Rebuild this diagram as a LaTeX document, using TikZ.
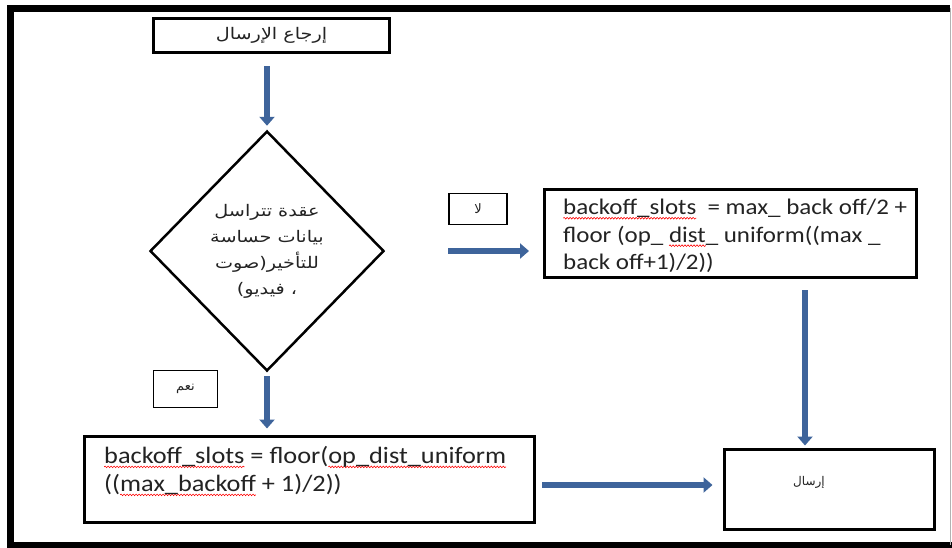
\documentclass[tikz,border=0pt]{standalone}
\usepackage{fontspec}
\setmainfont{Carlito}
\newfontfamily\calcfont[FakeStretch=1.12]{Carlito}
\newfontfamily\arabicfont[Script=Arabic]{DejaVu Sans}
\newfontfamily\arabicwide[Script=Arabic,FakeStretch=1.2]{DejaVu Sans}
\TeXXeTstate=1
\usetikzlibrary{shapes.geometric,arrows.meta,decorations.pathmorphing}
\definecolor{arrowblue}{RGB}{62,100,155}
\definecolor{txt}{RGB}{35,35,35}
\newsavebox\wbox
\newlength\wlen
\newcommand\rw[1]{\sbox\wbox{#1}\setlength\wlen{\wd\wbox}%
  \tikz[overlay,baseline=0pt]\draw[red, line width=0.6pt, decorate, decoration={snake, amplitude=0.8pt, segment length=3pt}] (0pt,-3.5pt) -- (\wlen,-3.5pt);%
  \usebox\wbox}
\tikzset{
  box/.style={draw=black, line width=3pt, fill=white, inner sep=0pt},
  sbox/.style={draw=black, line width=1.3pt, fill=white, inner sep=0pt},
  ar/.style={font=\arabicfont\fontsize{13}{26}\selectfont, text=txt},
  arw/.style={font=\arabicwide\fontsize{16}{26}\selectfont, text=txt},
  lat/.style={font=\calcfont\fontsize{23.5}{28}\selectfont, text=txt, align=left, inner sep=0pt, anchor=north west},
  flow/.style={draw=arrowblue, line width=6pt, -{Triangle[width=15pt,length=9pt]}}
}
\begin{document}
\begin{tikzpicture}[x=1pt,y=-1pt]
\useasboundingbox (0,0) rectangle (952,547);
% frame
\draw[line width=7pt] (950,8) -- (10,8) -- (10,545) -- (952,545);
\draw[line width=0.8pt, black!30] (950,8) -- (950,545);
% nodes
\node[box, arw, minimum width=236, minimum height=34] (ret) at (271.5,35.5) {\beginR إرجاع الإرسال\endR};
\node[draw=black, line width=2.5pt, diamond, minimum width=234, minimum height=240, inner sep=0pt, align=center, arw] (dia) at (267,251)
  {\beginR عقدة تتراسل\endR\\ \beginR بيانات حساسة\endR\\ \beginR للتأخير(صوت\endR\\ \beginR ، فيديو)\endR};
\node[sbox, ar, minimum width=58, minimum height=31] (no) at (478,209) {\beginR لا\endR};
\node[sbox, ar, minimum width=64, minimum height=37] (yes) at (185.5,389) {\beginR نعم\endR};
\node[box, minimum width=372, minimum height=88] (calc1) at (730.5,233) {};
\node[lat, font=\calcfont\fontsize{22.3}{27.5}\selectfont] (calc1t) at (563,199) {\rw{backoff\_slots}\ \ = max\_ back off/2 +\\ floor (op\_ \rw{dist}\_ uniform((max \_\\ back off+1)/2))};
\node[box, minimum width=450, minimum height=86] (calc2) at (309,479) {};
\node[lat] (calc2t) at (104,446) {\rw{backoff\_slots} = floor(\rw{op\_dist\_uniform}\\ ((\rw{max\_backoff} + 1)/2))};
\node[box, minimum width=210, minimum height=80] (send) at (829,489) {};
\node[ar, font=\arabicfont\fontsize{12}{14}\selectfont] (sendt) at (809,482) {\beginR إرسال\endR};
% connectors
\draw[flow, shorten <=12pt, shorten >=4pt] (dia.north |- ret.south) -- (dia.north);
\draw[flow, shorten <=63pt, shorten >=14pt] (dia.east) -- (dia.east -| calc1.west);
\draw[flow, shorten <=4pt, shorten >=6pt] (dia.south) -- (dia.south |- calc2.north);
\coordinate (c1) at (805,278);
\draw[flow, shorten <=12pt, shorten >=2pt] (c1) -- (c1 |- send.north);
\coordinate (c2) at (535,485);
\draw[flow, shorten <=7pt, shorten >=10pt] (c2) -- (c2 -| send.west);
\end{tikzpicture}
\end{document}
